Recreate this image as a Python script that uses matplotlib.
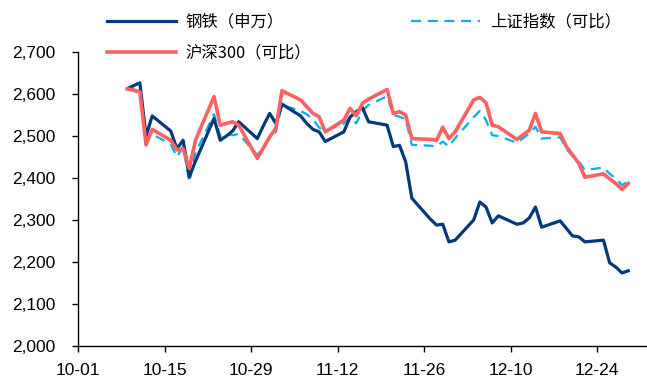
import numpy as np
import pandas as pd
import matplotlib
matplotlib.use("Agg")
import matplotlib.pyplot as plt
import matplotlib.dates as mdates
from matplotlib.ticker import FuncFormatter

plt.rcParams['font.family'] = ['Liberation Sans', 'Noto Sans CJK SC', 'DejaVu Sans']

# trading days, Oct 9 - Dec 29 2023
dates = pd.to_datetime([
    '2023-10-09', '2023-10-10', '2023-10-11', '2023-10-12', '2023-10-13',
    '2023-10-16', '2023-10-17', '2023-10-18', '2023-10-19', '2023-10-20',
    '2023-10-23', '2023-10-24', '2023-10-25', '2023-10-26', '2023-10-27',
    '2023-10-30', '2023-10-31', '2023-11-01', '2023-11-02', '2023-11-03',
    '2023-11-06', '2023-11-07', '2023-11-08', '2023-11-09', '2023-11-10',
    '2023-11-13', '2023-11-14', '2023-11-15', '2023-11-16', '2023-11-17',
    '2023-11-20', '2023-11-21', '2023-11-22', '2023-11-23', '2023-11-24',
    '2023-11-27', '2023-11-28', '2023-11-29', '2023-11-30', '2023-12-01',
    '2023-12-04', '2023-12-05', '2023-12-06', '2023-12-07', '2023-12-08',
    '2023-12-11', '2023-12-12', '2023-12-13', '2023-12-14', '2023-12-15',
    '2023-12-18', '2023-12-19', '2023-12-20', '2023-12-21', '2023-12-22',
    '2023-12-25', '2023-12-26', '2023-12-27', '2023-12-28', '2023-12-29',
])

steel = [
    2613, 2620, 2627, 2500, 2548,
    2512, 2470, 2490, 2403, 2440,
    2542, 2490, 2500, 2512, 2534,
    2494, 2525, 2554, 2530, 2576,
    2548, 2530, 2516, 2510, 2487,
    2510, 2545, 2558, 2568, 2534,
    2526, 2475, 2478, 2439, 2352,
    2302, 2288, 2290, 2248, 2252,
    2300, 2343, 2331, 2293, 2310,
    2290, 2293, 2305, 2331, 2283,
    2298, 2280, 2262, 2260, 2248,
    2252, 2198, 2188, 2174, 2179,
]

sse = [
    2612, 2608, 2600, 2500, 2505,
    2480, 2450, 2475, 2390, 2460,
    2552, 2500, 2505, 2502, 2505,
    2455, 2475, 2495, 2510, 2574,
    2560, 2552, 2540, 2520, 2512,
    2530, 2545, 2530, 2560, 2574,
    2595, 2550, 2546, 2540, 2479,
    2477, 2475, 2487, 2475, 2495,
    2545, 2560, 2538, 2502, 2500,
    2484, 2495, 2506, 2522, 2494,
    2497, 2470, 2452, 2440, 2419,
    2425, 2410, 2399, 2383, 2393,
]

hs300 = [
    2612, 2610, 2605, 2479, 2516,
    2490, 2467, 2470, 2423, 2490,
    2594, 2526, 2530, 2534, 2526,
    2447, 2472, 2498, 2518, 2608,
    2586, 2570, 2554, 2546, 2510,
    2538, 2566, 2548, 2578, 2588,
    2611, 2554, 2558, 2550, 2494,
    2492, 2490, 2521, 2494, 2510,
    2586, 2592, 2579, 2526, 2522,
    2492, 2503, 2514, 2554, 2510,
    2506, 2475, 2455, 2435, 2402,
    2410, 2398, 2387, 2373, 2387,
]

labels = ['钢铁（申万）', '沪深300（可比）', '上证指数（可比）']
tick_dates = pd.date_range('2023-10-01', periods=7, freq='14D')

fig = plt.figure(figsize=(6.47, 3.78), dpi=100)
ax = fig.add_axes([0.1206, 0.0847, 0.879, 0.7775])

l2, = ax.plot(dates, sse, color='#00B0F0', lw=1.6, ls=(0, (4.5, 3)), zorder=2)
l1, = ax.plot(dates, steel, color='#003A78', lw=2.3, zorder=3)
l3, = ax.plot(dates, hs300, color='#FF6161', lw=2.6, zorder=4)

ax.set_ylim(2000, 2700)
ax.set_yticks(np.arange(2000, 2701, 100))
ax.yaxis.set_major_formatter(FuncFormatter(lambda v, p: f'{int(v):,}'))
ax.set_xlim(pd.Timestamp('2023-10-01'), pd.Timestamp('2024-01-01'))
ax.set_xticks(tick_dates)
ax.xaxis.set_major_formatter(mdates.DateFormatter('%m-%d'))

for s in ['top', 'right']:
    ax.spines[s].set_visible(False)
for s in ['left', 'bottom']:
    ax.spines[s].set_linewidth(1.0)
ax.tick_params(axis='both', direction='out', length=4, width=1.0, labelsize=12.5)
ax.tick_params(axis='y', pad=12)
ax.tick_params(axis='x', pad=8)

leg = fig.legend([l1, l3, l2], labels,
                 ncol=2, loc='upper left', bbox_to_anchor=(0.153, 0.985),
                 frameon=False, handlelength=4.2, handletextpad=0.6,
                 columnspacing=6.1, labelspacing=0.85, borderpad=0,
                 prop={'family': ['Noto Sans CJK SC', 'DejaVu Sans'], 'size': 11.8})

fig.savefig('out.png', dpi=100)
